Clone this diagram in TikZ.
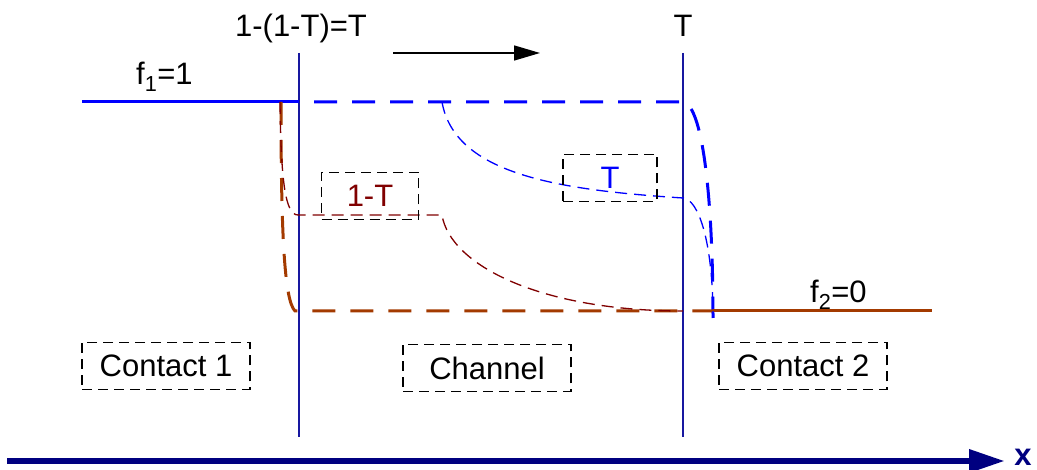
\documentclass[tikz,border=0pt]{standalone}
\usepackage{fontspec}
\setmainfont{Liberation Sans}
\usetikzlibrary{arrows.meta}
\definecolor{wallblue}{RGB}{24,24,160}
\definecolor{axisnavy}{RGB}{0,0,128}
\definecolor{fblue}{RGB}{0,0,255}
\definecolor{fbrown}{RGB}{163,58,0}
\definecolor{fmaroon}{RGB}{128,0,0}
\tikzset{
  wall/.style={draw=wallblue, line width=1.5pt},
  lbl/.style={font=\fontsize{31}{36}\selectfont, inner sep=0pt},
  tagbox/.style={draw=black, line width=1.5pt, dash pattern=on 10pt off 6pt,
    font=\fontsize{31}{36}\selectfont, inner sep=0pt},
  fsolid/.style={line width=3pt},
  fdash/.style={line width=3pt, dash pattern=on 23pt off 15pt},
  thindash/.style={line width=1.3pt, dash pattern=on 12pt off 7pt},
}
\begin{document}
\begin{tikzpicture}[x=1pt, y=-1pt]
\useasboundingbox (0,0) rectangle (1037,470);

% interfaces between contacts and channel
\coordinate (w1t) at (299,53);  \coordinate (w1b) at (299,437);
\coordinate (w2t) at (683,53);  \coordinate (w2b) at (683,437);
\draw[wall] (w1t) -- (w1b);
\draw[wall] (w2t) -- (w2b);

% labels above the interfaces
\node[lbl, anchor=base] (lt1) at (301,37) {1-(1-T)=T};
\node[lbl, anchor=base] (lt2) at (683,37) {T};

% direction of flow
\coordinate (fa) at (393,53);
\coordinate (fb) at (540,53);
\draw[line width=1.5pt, -{Triangle[length=26pt, width=15pt]}] (fa) -- (fb);

% occupation levels in the contacts
\node[lbl, anchor=base west] (f1) at (136,85) {f\textsubscript{1}=1};
\node[lbl, anchor=base west] (f2) at (810,303) {f\textsubscript{2}=0};

\coordinate (l0) at (82,102);
\coordinate (l1) at (299,102);
\coordinate (l2) at (683,102);
\coordinate (l3) at (713,318);
\draw[fsolid, fblue] (l0) -- (l1);
\draw[fdash, fblue, dash phase=23pt] (l1) -- (l2)
  .. controls (703,105) and (713,200) .. (l3);

\coordinate (r0) at (713,311);
\coordinate (r1) at (932,311);
\draw[fsolid, fbrown] (r0) -- (r1);
\coordinate (b0) at (281,102);
\coordinate (b1) at (295,311);
\draw[fdash, fbrown] (b0) .. controls (281,230) and (284,300) .. (b1) -- (r0);

% thin curves: transmitted and reflected parts
\coordinate (t0) at (442,102);
\coordinate (t1) at (683,198);
\draw[thindash, fblue] (t0) .. controls (455,175) and (560,190) .. (t1)
  .. controls (698,199) and (713,240) .. (l3);

\coordinate (m0) at (280,102);
\coordinate (m1) at (298,215);
\coordinate (m2) at (442,215);
\coordinate (m3) at (683,311);
\draw[thindash, fmaroon] (m0) .. controls (281,180) and (285,215) .. (m1)
  -- (m2) .. controls (450,265) and (540,311) .. (m3);

% boxed labels
\node[tagbox, text=fmaroon, minimum width=97pt, minimum height=47pt] (b1t) at (370,196) {1-T};
\node[tagbox, text=fblue, minimum width=94pt, minimum height=47pt] (bt) at (610,178) {T};
\node[tagbox, minimum width=168pt, minimum height=47pt] (c1) at (166,366) {Contact 1};
\node[tagbox, minimum width=168pt, minimum height=47pt] (ch) at (487,368) {Channel};
\node[tagbox, minimum width=168pt, minimum height=47pt] (c2) at (803,366) {Contact 2};

% position axis
\coordinate (x0) at (7,461);
\coordinate (x1) at (1005,461);
\draw[axisnavy, line width=6.5pt, -{Triangle[length=36pt, width=22pt]}] (x0) -- (x1);
\node[lbl, text=axisnavy, font=\fontsize{31}{36}\bfseries, anchor=base] (xl) at (1023,465) {x};
\end{tikzpicture}
\end{document}
